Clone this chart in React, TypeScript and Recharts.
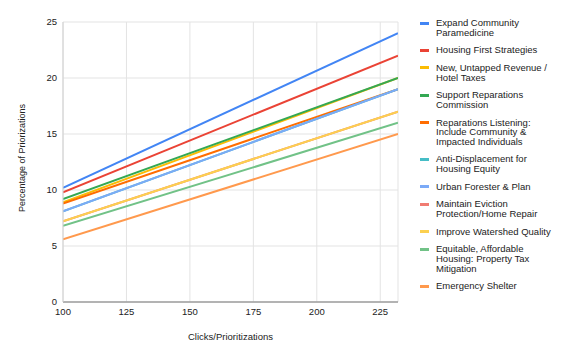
import React from 'react';
import { LineChart, Line, XAxis, YAxis, CartesianGrid, Legend, Label } from 'recharts';

const xValues = [100, 232];
const xTicks = [100, 125, 150, 175, 200, 225];
const yTicks = [0, 5, 10, 15, 20, 25];

const seriesNames = [
  'Expand Community Paramedicine',
  'Housing First Strategies',
  'New, Untapped Revenue / Hotel Taxes',
  'Support Reparations Commission',
  'Reparations Listening: Include Community & Impacted Individuals',
  'Anti-Displacement for Housing Equity',
  'Urban Forester & Plan',
  'Maintain Eviction Protection/Home Repair',
  'Improve Watershed Quality',
  'Equitable, Affordable Housing: Property Tax Mitigation',
  'Emergency Shelter',
];

const expandCommunity = [10.2, 24];
const housingFirst = [9.8, 22];
const newRevenue = [8.9, 20];
const supportReparations = [9.2, 20];
const reparationsListening = [8.8, 19];
const antiDisplacement = [8.1, 19];
const urbanForester = [8.1, 19];
const maintainEviction = [7.2, 17];
const improveWatershed = [7.2, 17];
const equitableHousing = [6.8, 16];
const emergencyShelter = [5.6, 15];

const seriesValues = [
  expandCommunity,
  housingFirst,
  newRevenue,
  supportReparations,
  reparationsListening,
  antiDisplacement,
  urbanForester,
  maintainEviction,
  improveWatershed,
  equitableHousing,
  emergencyShelter,
];

const colors = [
  '#4285F4', '#EA4335', '#FBBC04', '#34A853', '#FF6D01', '#46BDC6',
  '#7BAAF7', '#F07B72', '#FCD04F', '#71C287', '#FF994D',
];

const data = xValues.map((x, i) => {
  const row: Record<string, number> = { x };
  seriesValues.forEach((vals, s) => {
    row['s' + s] = vals[i];
  });
  return row;
});

const FONT = '"Liberation Sans", Arial, sans-serif';

const renderLegend = () => (
  <div style={{ fontFamily: FONT, fontSize: 9.5, color: '#222' }}>
    {seriesNames.map((name, i) => (
      <div key={name} style={{ display: 'flex', alignItems: 'flex-start', marginBottom: 8.1 }}>
        <div style={{ width: 9, height: 3, background: colors[i], marginTop: 3.5, marginRight: 7, flexShrink: 0 }} />
        <div style={{ width: 118, lineHeight: '9.6px' }}>{name}</div>
      </div>
    ))}
  </div>
);

export default function App() {
  return (
    <div style={{ position: 'absolute', left: 0, top: 0, width: 577, height: 357, background: '#fff' }}>
      <LineChart
        width={577}
        height={357}
        data={data}
        margin={{ top: 22, right: 29, bottom: 0, left: 0 }}
      >
        <CartesianGrid stroke="#e3e3e3" strokeWidth={1} />
        <XAxis
          dataKey="x"
          type="number"
          domain={[100, 232]}
          ticks={xTicks}
          allowDataOverflow
          height={55}
          tickLine={false}
          tickSize={0}
          tickMargin={6}
          axisLine={{ stroke: '#9e9e9e', strokeWidth: 1.5 }}
          tick={{ fill: '#222', fontSize: 9.5, fontFamily: FONT }}
        >
          <Label
            content={({ viewBox }: any) => (
              <text
                x={viewBox.x + viewBox.width / 2}
                y={viewBox.y + 35}
                textAnchor="middle"
                dominantBaseline="middle"
                fill="#222"
                fontSize={9.5}
                fontFamily={FONT}
              >
                Clicks/Prioritizations
              </text>
            )}
          />
        </XAxis>
        <YAxis
          type="number"
          domain={[0, 25]}
          ticks={yTicks}
          width={63}
          tickLine={false}
          tickSize={0}
          tickMargin={6}
          axisLine={{ stroke: '#d0d0d0' }}
          tick={{ fill: '#222', fontSize: 9.5, fontFamily: FONT }}
        >
          <Label
            content={({ viewBox }: any) => {
              const cx = viewBox.x + 23;
              const cy = viewBox.y + viewBox.height / 2 - 4;
              return (
                <text
                  x={cx}
                  y={cy}
                  transform={`rotate(-90 ${cx} ${cy})`}
                  textAnchor="middle"
                  dominantBaseline="middle"
                  fill="#222"
                  fontSize={9}
                  fontFamily={FONT}
                >
                  Percentage of Priorizations
                </text>
              );
            }}
          />
        </YAxis>
        <Legend
          layout="vertical"
          align="right"
          verticalAlign="top"
          content={renderLegend}
          wrapperStyle={{ position: 'absolute', left: 420, top: 18, width: 150 }}
        />
        {seriesNames.map((name, i) => (
          <Line
            key={name}
            name={name}
            dataKey={'s' + i}
            type="linear"
            stroke={colors[i]}
            strokeWidth={2}
            dot={false}
            activeDot={false}
            isAnimationActive={false}
          />
        ))}
      </LineChart>
    </div>
  );
}
